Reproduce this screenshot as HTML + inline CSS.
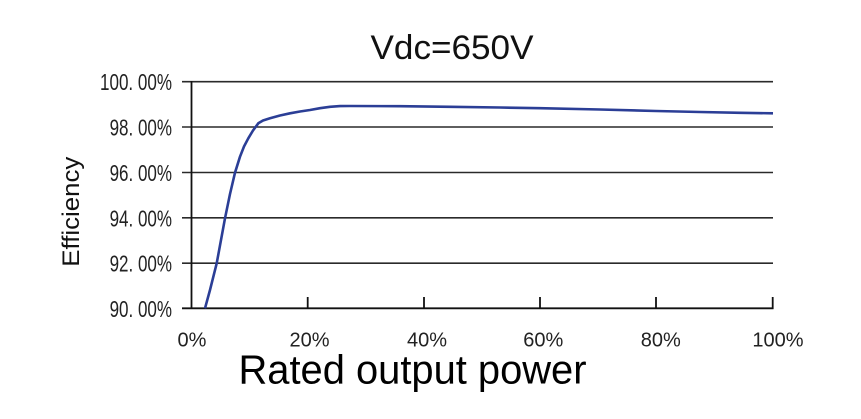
<!DOCTYPE html>
<html>
<head>
<meta charset="utf-8">
<style>
  html,body{margin:0;padding:0;background:#fff;}
  svg{display:block;}
  text{font-family:"Liberation Sans",Arial,sans-serif;}
</style>
</head>
<body>
<svg width="861" height="419" viewBox="0 0 861 419" xmlns="http://www.w3.org/2000/svg">
  <rect width="861" height="419" fill="#fff"/>
  <!-- title -->
  <text x="452" y="59" font-size="34" text-anchor="middle" fill="#111" textLength="163" lengthAdjust="spacingAndGlyphs">Vdc=650V</text>

  <!-- gridlines -->
  <g stroke="#2a2a2a" stroke-width="1.6">
    <line x1="182" y1="81.7" x2="773" y2="81.7"/>
    <line x1="182" y1="127" x2="773" y2="127"/>
    <line x1="182" y1="172.5" x2="773" y2="172.5"/>
    <line x1="182" y1="217.8" x2="773" y2="217.8"/>
    <line x1="182" y1="263.2" x2="773" y2="263.2"/>
  </g>
  <!-- axes -->
  <g stroke="#111" stroke-width="1.8">
    <line x1="182" y1="308.3" x2="773.5" y2="308.3"/>
    <line x1="191.5" y1="81" x2="191.5" y2="309"/>
    <line x1="307.7" y1="297" x2="307.7" y2="308.3"/>
    <line x1="424" y1="297" x2="424" y2="308.3"/>
    <line x1="540" y1="297" x2="540" y2="308.3"/>
    <line x1="656" y1="297" x2="656" y2="308.3"/>
    <line x1="772.7" y1="297" x2="772.7" y2="309"/>
  </g>

  <!-- y tick labels -->
  <g font-size="23" fill="#222" text-anchor="end">
    <text x="172" y="90.2" textLength="72" lengthAdjust="spacingAndGlyphs">100. 00%</text>
    <text x="172" y="135.5" textLength="62.4" lengthAdjust="spacingAndGlyphs">98. 00%</text>
    <text x="172" y="181" textLength="62.4" lengthAdjust="spacingAndGlyphs">96. 00%</text>
    <text x="172" y="226.3" textLength="62.4" lengthAdjust="spacingAndGlyphs">94. 00%</text>
    <text x="172" y="271.7" textLength="62.4" lengthAdjust="spacingAndGlyphs">92. 00%</text>
    <text x="172" y="316.8" textLength="62.4" lengthAdjust="spacingAndGlyphs">90. 00%</text>
  </g>

  <!-- x tick labels -->
  <g font-size="20" fill="#222" text-anchor="middle">
    <text x="192" y="346.7">0%</text>
    <text x="309.5" y="346.7">20%</text>
    <text x="427" y="346.7">40%</text>
    <text x="543.3" y="346.7">60%</text>
    <text x="660.8" y="346.7">80%</text>
    <text x="778" y="346.7">100%</text>
  </g>

  <!-- axis titles -->
  <text x="412.5" y="383.3" font-size="41" fill="#000" text-anchor="middle" textLength="348" lengthAdjust="spacingAndGlyphs">Rated output power</text>
  <text transform="translate(79,211.7) rotate(-90)" font-size="24" fill="#111" text-anchor="middle" textLength="110" lengthAdjust="spacingAndGlyphs">Efficiency</text>

  <!-- curve -->
  <polyline fill="none" stroke="#2b3e96" stroke-width="2.6" stroke-linejoin="round" stroke-linecap="butt"
    points="205,308.3 210,290 216.7,263.3 221,240 225,218.3 230,194 235,172.7 240,156.7 244,146.5 248.3,138.3 253,130.5 258.3,123.3 263,120.5 270,118.3 280,115.5 290,113.3 300,111.5 310,110 320,108.2 330,106.8 340,106.1 350,106 400,106.2 450,106.8 500,107.5 540,108.2 600,109.5 656,111 700,112 740,112.8 773,113.3"/>
</svg>
</body>
</html>
